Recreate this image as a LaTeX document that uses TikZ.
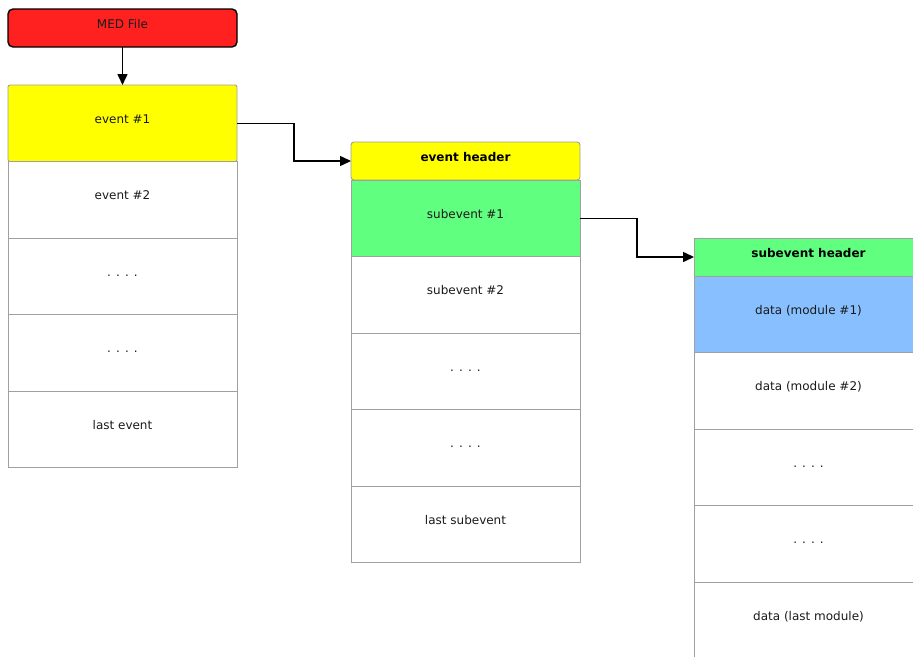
\documentclass[tikz,border=0pt]{standalone}
\usepackage{fontspec}
\setmainfont{DejaVu Sans}
\usetikzlibrary{arrows.meta,positioning}
\definecolor{medred}{HTML}{FF2020}
\definecolor{hyellow}{HTML}{FFFF00}
\definecolor{hgreen}{HTML}{60FF80}
\definecolor{hblue}{HTML}{88BFFF}
\definecolor{cellgray}{HTML}{A0A0A0}
\definecolor{txt}{HTML}{1A1A1A}
\tikzset{
  cell/.style={draw=cellgray, line width=0.9pt, minimum width=229pt, minimum height=76.5pt,
    inner sep=0pt, outer sep=0pt, text=txt, text height=6pt, text depth=5.6pt,
    font=\fontsize{12}{14}\selectfont},
  hdr/.style={cell, minimum height=38pt, font=\fontsize{12}{14}\selectfont\bfseries, text=black},
  medbox/.style={cell, minimum height=38pt, fill=medred, draw=black, line width=1.4pt, rounded corners=5pt},
  link/.style={draw=black, line width=1.5pt, -{Triangle[length=11pt,width=10pt]}},
}
\begin{document}
\begin{tikzpicture}[x=1pt,y=-1pt]
\useasboundingbox (0,0) rectangle (913,656);
\clip (0,0) rectangle (913,656);
% column 1
\node[medbox, anchor=north west] (med) at (8,9) {MED File};
\node[cell, anchor=north west, fill=hyellow, rounded corners=2pt] (e1) at (8,85) {event \#1};
\node[cell, below=0pt of e1] (e2) {event \#2};
\node[cell, below=0pt of e2] (e3) {. . . .};
\node[cell, below=0pt of e3] (e4) {. . . .};
\node[cell, below=0pt of e4] (e5) {last event};
% column 2
\node[hdr, anchor=north west, fill=hyellow, rounded corners=3pt] (eh) at (351,142) {event header};
\node[cell, below=0pt of eh, fill=hgreen] (s1) {subevent \#1};
\node[cell, below=0pt of s1] (s2) {subevent \#2};
\node[cell, below=0pt of s2] (s3) {. . . .};
\node[cell, below=0pt of s3] (s4) {. . . .};
\node[cell, below=0pt of s4] (s5) {last subevent};
% column 3
\node[hdr, anchor=north west, fill=hgreen] (sh) at (694,238) {subevent header};
\node[cell, below=0pt of sh, fill=hblue] (d1) {data (module \#1)};
\node[cell, below=0pt of d1] (d2) {data (module \#2)};
\node[cell, below=0pt of d2] (d3) {. . . .};
\node[cell, below=0pt of d3] (d4) {. . . .};
\node[cell, below=0pt of d4] (d5) {data (last module)};
% connectors
\draw[link] (med.south) -- (e1.north);
\draw[link] (e1.east) -- ++(57,0) |- (eh.west);
\draw[link] (s1.east) -- ++(57,0) |- (sh.west);
\end{tikzpicture}
\end{document}
